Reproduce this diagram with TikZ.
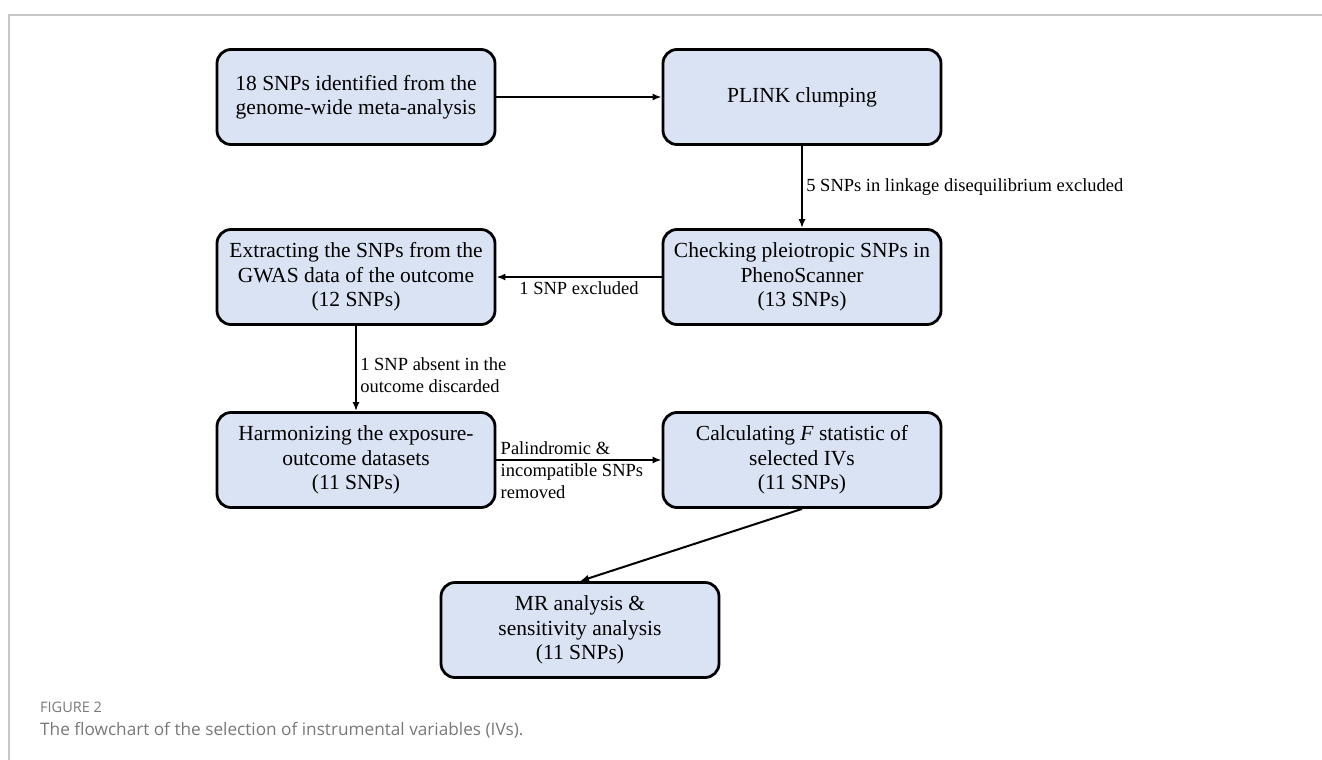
\documentclass[tikz,border=0pt]{standalone}
\usepackage{fontspec}
\setmainfont{Liberation Serif}
\newfontfamily\capfont{Open Sans}
\usepackage{tikz}
\usetikzlibrary{arrows.meta}
\definecolor{BoxBlue}{RGB}{218, 227, 243}
\definecolor{FrameGray}{RGB}{200, 200, 200}
\definecolor{CapGray}{RGB}{120, 120, 120}

\begin{document}
\begin{tikzpicture}[x=1pt, y=-1pt, >={Latex[length=9pt, width=7pt]},
  box/.style={draw=black, line width=2.8pt, rounded corners=14pt, fill=BoxBlue,
              align=center, inner sep=4pt, minimum height=95pt, minimum width=278pt,
              font=\fontsize{21.5}{24.5}\selectfont},
  lbl/.style={font=\fontsize{18.5}{22}\selectfont, align=left},
  captxt/.style={anchor=west, inner sep=0pt, text=CapGray},
  sig/.style={->, line width=2pt}]
  \useasboundingbox (0,0) rectangle (1322,760);
  \draw[FrameGray, line width=1.5pt] (9,760) -- (9,15) -- (1322,15);
  \node[box] (snps)    at (356,97)  {18 SNPs identified from the\\genome-wide meta-analysis};
  \node[box] (plink)   at (802,97)  {PLINK clumping};
  \node[box] (pleio)   at (802,277) {Checking pleiotropic SNPs in\\PhenoScanner\\(13 SNPs)};
  \node[box] (extract) at (356,277) {Extracting the SNPs from the\\GWAS data of the outcome\\(12 SNPs)};
  \node[box] (harm)    at (356,460) {Harmonizing the exposure-\\outcome datasets\\(11 SNPs)};
  \node[box] (fstat)   at (802,460) {Calculating \textit{F} statistic of\\selected IVs\\(11 SNPs)};
  \node[box] (mr)      at (580,630) {MR analysis \&\\sensitivity analysis\\(11 SNPs)};
  \draw[sig] (snps) -- (plink);
  \draw[sig] (plink) -- node[lbl, right]{5 SNPs in linkage disequilibrium excluded} (pleio);
  \draw[sig] (pleio) -- node[lbl, below]{1 SNP excluded} (extract);
  \draw[sig] (extract) -- node[lbl, right, pos=0.58]{1 SNP absent in the\\outcome discarded} (harm);
  \draw[sig] (harm) -- node[lbl, pos=0, anchor=west, yshift=-10pt]{Palindromic \&\\incompatible SNPs\\removed} (fstat);
  \draw[sig] (fstat.south) -- (mr.north);
  % caption
  \node[captxt, font=\capfont\fontsize{14.5}{16}\selectfont] (figno) at (40,707) {FIGURE 2};
  \node[captxt, font=\capfont\fontsize{17.2}{20}\selectfont] (caption) at (40,730) {The flowchart of the selection of instrumental variables (IVs).};
\end{tikzpicture}
\end{document}
